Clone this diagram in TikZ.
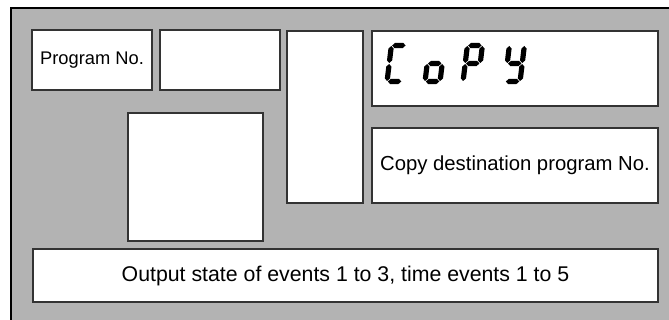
\documentclass[tikz,border=0pt]{standalone}
\usepackage{fontspec}
\setmainfont{Liberation Sans}
\tikzset{
  panel/.style={draw=black!80, line width=1.2pt, fill=white, inner sep=0pt},
  lbl/.style={font=\fontsize{20.3}{24}\selectfont},
  seg/.style={fill=black, draw=none}
}
% seven-segment helpers (local coords, y up)
\newcommand{\hsegm}[3]{\fill (#1,#3) -- ++(2.6,2.6) -- (#2-2.6,#3+2.6) -- (#2,#3) -- (#2-2.6,#3-2.6) -- (#1+2.6,#3-2.6) -- cycle;}
\newcommand{\vsegm}[3]{\fill (#1,#2) -- ++(2.6,2.6) -- (#1+2.6,#3-2.6) -- (#1,#3) -- (#1-2.6,#3-2.6) -- (#1-2.6,#2+2.6) -- cycle;}
\begin{document}
\begin{tikzpicture}[x=1pt,y=-1pt]
\useasboundingbox (0,0) rectangle (669,320);
\fill[fill={rgb,255:red,179;green,179;blue,179}] (11,8) rectangle (669,320);
\draw[line width=2.6pt, black] (11,320) -- (11,8) -- (669,8);

\node[panel, minimum width=120pt, minimum height=60pt, font=\fontsize{18.3}{22}\selectfont] (prog) at (92,60) {Program No.};
\node[panel, minimum width=120pt, minimum height=60pt] (blank1) at (220,60) {};
\node[panel, minimum width=135pt, minimum height=128pt] (lowbox) at (195.5,177) {};
\node[panel, minimum width=76pt, minimum height=172pt] (tall) at (325,117) {};
\node[panel, minimum width=286pt, minimum height=75pt] (copy) at (515,68.5) {};
\node[panel, lbl, minimum width=286pt, minimum height=75pt] (dest) at (515,165.5) {Copy destination program No.};
\node[panel, minimum width=625pt, minimum height=53pt, font=\fontsize{21.3}{25}\selectfont] (out) at (345.5,275.5) {Output state of events 1 to 3, time events 1 to 5};

% C
\begin{scope}[shift={(387,82)}, x=1pt, y=1pt, xslant=0.12]
  \hsegm{0.8}{14.2}{36.5}
  \vsegm{0}{19}{36}
  \vsegm{0}{1}{18}
  \hsegm{0.8}{14.2}{0.5}
\end{scope}
% o
\begin{scope}[shift={(425,82)}, x=1pt, y=1pt, xslant=0.12]
  \hsegm{0.8}{14.2}{18.5}
  \vsegm{0}{1}{18}
  \vsegm{15}{1}{18}
  \hsegm{0.8}{14.2}{0.5}
\end{scope}
% P
\begin{scope}[shift={(463,82)}, x=1pt, y=1pt, xslant=0.12]
  \hsegm{0.8}{14.2}{36.5}
  \vsegm{0}{19}{36}
  \vsegm{15}{19}{36}
  \hsegm{0.8}{14.2}{18.5}
  \vsegm{0}{1}{18}
\end{scope}
% Y
\begin{scope}[shift={(505,82)}, x=1pt, y=1pt, xslant=0.12]
  \vsegm{0}{19}{36}
  \vsegm{15}{19}{36}
  \hsegm{0.8}{14.2}{18.5}
  \vsegm{15}{1}{18}
  \hsegm{0.8}{14.2}{0.5}
\end{scope}
\end{tikzpicture}
\end{document}
